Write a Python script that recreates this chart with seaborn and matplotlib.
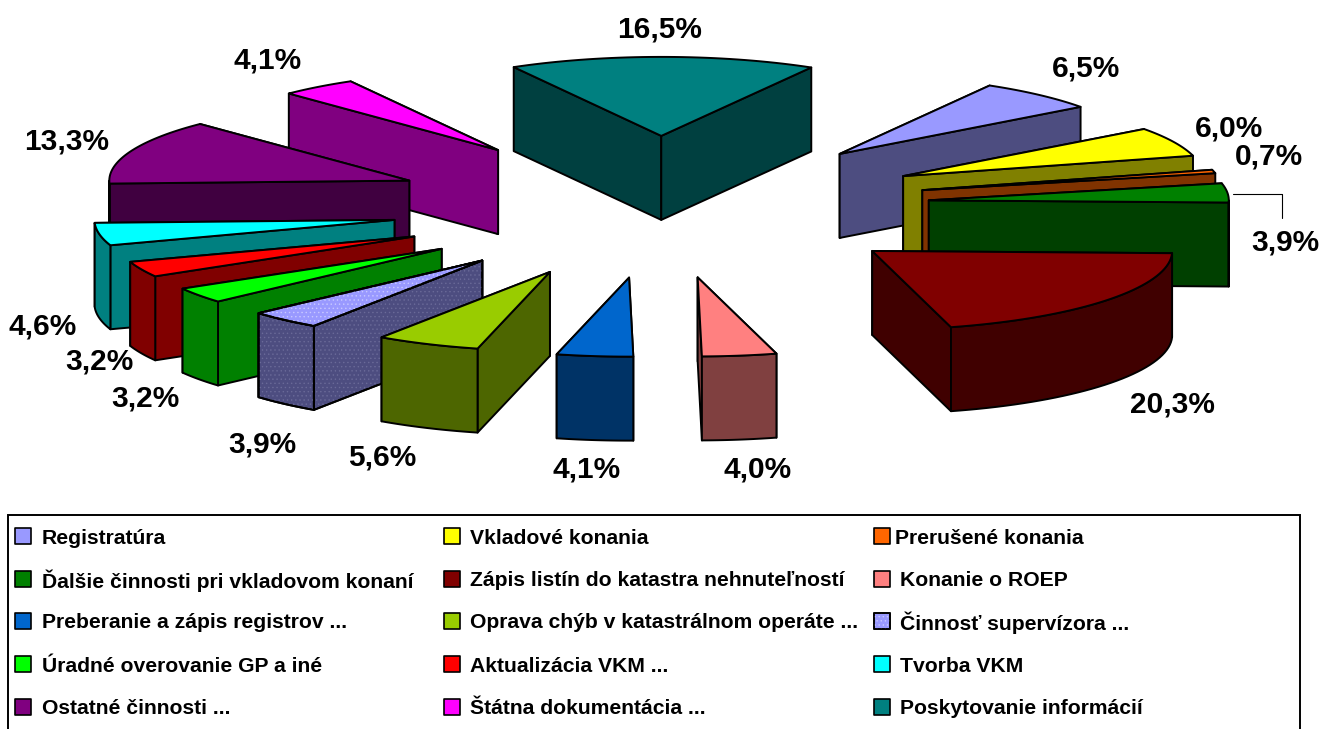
import numpy as np
import matplotlib.pyplot as plt
from matplotlib.patches import Polygon, Rectangle
import seaborn as sns

# order is clockwise, starting right after the top slice's right edge
categories = ['Registratúra', 'Vkladové konania', 'Prerušené konania',
              'Ďalšie činnosti pri vkladovom konaní', 'Zápis listín do katastra nehnuteľností', 'Konanie o ROEP',
              'Preberanie a zápis registrov ...', 'Oprava chýb v katastrálnom operáte ...', 'Činnosť supervízora ...',
              'Úradné overovanie GP a iné', 'Aktualizácia VKM ...', 'Tvorba VKM',
              'Ostatné činnosti ...', 'Štátna dokumentácia ...', 'Poskytovanie informácií']
values = [6.5, 6.0, 0.7, 3.9, 20.3, 4.0, 4.1, 5.6, 3.9, 3.2, 3.2, 4.6, 13.3, 4.1, 16.5]
top_colors = ['#9999FF', '#FFFF00', '#FF6600', '#008000', '#800000', '#FF8080',
              '#0066CC', '#99CC00', '#9999FF', '#00FF00', '#FF0000', '#00FFFF',
              '#800080', '#FF00FF', '#008080']
dotted = ['Činnosť supervízora ...']

# layout, in pixels
label_centers = [(1086, 68), (1229, 128), (1269, 156), (1285, 242), (1172, 404), (758, 469), (587, 469),
                 (382, 457), (262, 444), (145, 398), (99, 361), (43, 326), (67, 141), (268, 60), (660, 29)]
legend_swatch_x = [15, 444, 874]
legend_text_x = [42, 470, 900]
legend_rows_y = [536, 579, 621, 664, 707]
legend_text_nudge = {'Prerušené konania': -5}

CX, CY = 660, 207
RX, RY = 300, 79
EXPLODE = 0.9
DEPTH = 84
START = 30.0
LW = 1.4

sns.set_theme(style="white")
plt.rcParams['font.family'] = ['Liberation Sans', 'DejaVu Sans']
plt.rcParams['hatch.linewidth'] = 0.5
palette = sns.color_palette(top_colors)

fig = plt.figure(figsize=(13.19, 7.29), dpi=100)
ax = fig.add_axes([0, 0, 1, 1])
ax.set_xlim(0, 1319)
ax.set_ylim(729, 0)
ax.axis('off')


def ring(ax0, ay0, deg):
    t = np.radians(deg)
    return ax0 + RX * np.sin(t), ay0 - RY * np.cos(t)


def face(points, color, z, hatch=None, lw=LW):
    ax.add_patch(Polygon(points, closed=True, facecolor=color, edgecolor='black', linewidth=lw,
                         joinstyle='round', zorder=z))
    if hatch:
        ax.add_patch(Polygon(points, closed=True, facecolor='none', edgecolor=hatch, linewidth=0,
                             hatch='....', zorder=z))
        ax.add_patch(Polygon(points, closed=True, facecolor='none', edgecolor='black', linewidth=lw,
                             joinstyle='round', zorder=z))


# slice angles from the values
total = sum(values)
sweeps = [v / total * 360 for v in values]
starts = START + np.concatenate([[0], np.cumsum(sweeps)[:-1]])

slices = []
for i, (a0, sw) in enumerate(zip(starts, sweeps)):
    mid = np.radians(a0 + sw / 2)
    apex_x = CX + EXPLODE * RX * np.sin(mid)
    apex_y = CY - EXPLODE * RY * np.cos(mid)
    slices.append((apex_y, i, apex_x, a0, a0 + sw))

# back to front
for z, (apex_y, i, apex_x, a0, a1) in enumerate(sorted(slices)):
    top = palette[i]
    side = tuple(c / 2 for c in top)
    is_dotted = categories[i] in dotted
    top_hatch = '#C8C8FF' if is_dotted else None
    side_hatch = '#6A6A98' if is_dotted else None
    z = z * 2 + 2

    # radial walls, the one further back first
    ends = sorted([a0, a1], key=lambda d: ring(apex_x, apex_y, d)[1])
    for d in ends:
        ex, ey = ring(apex_x, apex_y, d)
        face([(apex_x, apex_y), (ex, ey), (ex, ey + DEPTH), (apex_x, apex_y + DEPTH)], side, z, side_hatch)

    # outer wall, only the part turned to the viewer
    lo, hi = max(a0, 90), min(a1, 270)
    if hi > lo:
        xs, ys = ring(apex_x, apex_y, np.linspace(lo, hi, 40))
        pts = list(zip(xs, ys)) + list(zip(xs[::-1], ys[::-1] + DEPTH))
        face(pts, side, z, side_hatch)

    xs, ys = ring(apex_x, apex_y, np.linspace(a0, a1, 40))
    face([(apex_x, apex_y)] + list(zip(xs, ys)), top, z + 1, top_hatch)

# percentage labels
for v, (lx, ly) in zip(values, label_centers):
    ax.text(lx, ly, f"{v:.1f}%".replace('.', ','), ha='center', va='center',
            fontsize=21.5, fontweight='bold', color='black', zorder=60)

# leader line of the 3,9% label
ax.plot([1233, 1282, 1282], [194, 194, 218], color='black', linewidth=0.8, zorder=60)

# legend frame runs past the bottom edge
ax.add_patch(Rectangle((8, 515), 1292, 230, facecolor='white', edgecolor='black', linewidth=1.4, zorder=1))
for i, name in enumerate(categories):
    row, col = divmod(i, 3)
    y = legend_rows_y[row]
    sx = legend_swatch_x[col]
    face([(sx, y - 8), (sx + 16, y - 8), (sx + 16, y + 8), (sx, y + 8)], palette[i], 60,
         '#C8C8FF' if name in dotted else None, lw=1.2)
    ax.text(legend_text_x[col] + legend_text_nudge.get(name, 0), y, name, ha='left', va='center_baseline',
            fontsize=15.2, fontweight='bold', color='black', zorder=60)

fig.savefig('out.png', dpi=100)
plt.close(fig)
